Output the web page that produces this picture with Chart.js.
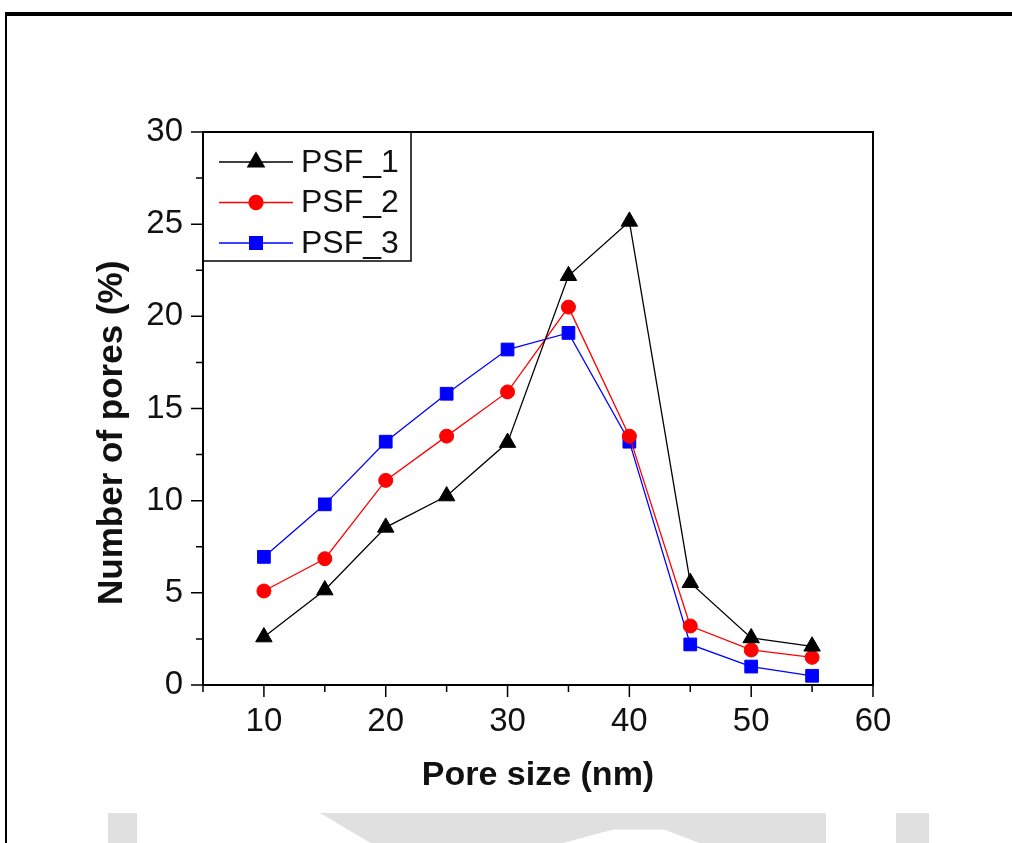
<!DOCTYPE html>
<html>
<head>
<meta charset="utf-8">
<script src="https://cdn.jsdelivr.net/npm/chart.js@4.4.0/dist/chart.umd.min.js"></script>
<style>
  html, body { margin: 0; padding: 0; background: #fff; }
  #wrap { position: relative; width: 1012px; height: 843px; overflow: hidden; }
  #graph { position: absolute; left: 0; top: 0; }
  #frame { position: absolute; left: 5px; top: 12px; width: 1012px; height: 840px;
           border-top: 4px solid #000; border-left: 2px solid #000; box-sizing: border-box; }
  .wm { position: absolute; background: #e0e0e0; }
</style>
</head>
<body>
<div id="wrap">
  <canvas id="graph" width="1012" height="843"></canvas>
  <div id="frame"></div>
  <div class="wm" style="left:108px;top:813px;width:29px;height:30px"></div>
  <div class="wm" style="left:320px;top:813px;width:506px;height:30px;clip-path:polygon(0 0,100% 0,100% 100%,75% 100%,68% 55%,58% 55%,48% 100%,10% 100%)"></div>
  <div class="wm" style="left:896px;top:813px;width:33px;height:30px"></div>
</div>
<script>
// pore size (nm)
const tailles = [10, 15, 20, 25, 30, 35, 40, 45, 50, 55];
const psf1 = [2.6, 5.15, 8.55, 10.25, 13.15, 22.2, 25.15, 5.55, 2.55, 2.1];
const psf2 = [5.1, 6.85, 11.1, 13.5, 15.9, 20.5, 13.5, 3.2, 1.9, 1.5];
const psf3 = [6.95, 9.8, 13.2, 15.8, 18.2, 19.1, 13.2, 2.2, 1.0, 0.5];
const noms = ["PSF_1", "PSF_2", "PSF_3"];

const police = "'Liberation Sans', Arial, sans-serif";

function serie(nom, vals, couleur, style, rayon) {
  return {
    label: nom,
    data: tailles.map((t, i) => ({ x: t, y: vals[i] })),
    borderColor: couleur,
    backgroundColor: couleur,
    borderWidth: 1.3,
    pointStyle: style,
    pointRadius: rayon,
    pointHoverRadius: rayon,
    pointBorderWidth: 1,
    pointBackgroundColor: couleur,
    pointBorderColor: couleur,
    tension: 0
  };
}

// ticks + box + legend drawn inside the plot
const cadre = {
  id: "cadre",
  afterDraw(chart) {
    const ctx = chart.ctx;
    const a = chart.chartArea;
    const sx = chart.scales.x, sy = chart.scales.y;
    ctx.save();
    ctx.strokeStyle = "#000";
    ctx.lineWidth = 1.5;
    ctx.beginPath();
    sx.ticks.forEach(t => {
      const px = sx.getPixelForValue(t.value);
      const long = t.value % 10 === 0 ? 12 : 7;
      ctx.moveTo(px, a.bottom);
      ctx.lineTo(px, a.bottom + long);
    });
    sy.ticks.forEach(t => {
      const py = sy.getPixelForValue(t.value);
      const long = t.value % 5 === 0 ? 12 : 7;
      ctx.moveTo(a.left, py);
      ctx.lineTo(a.left - long, py);
    });
    ctx.stroke();
    ctx.lineWidth = 2;
    ctx.strokeRect(a.left, a.top, a.right - a.left, a.bottom - a.top);

    // legend
    const lx = a.left, ly = a.top;
    ctx.lineWidth = 1.5;
    ctx.strokeRect(lx, ly, 208, 129);
    chart.data.datasets.forEach((ds, i) => {
      const y = ly + 30 + i * 40.5;
      ctx.strokeStyle = ds.borderColor;
      ctx.lineWidth = 1.3;
      ctx.beginPath();
      ctx.moveTo(lx + 16, y);
      ctx.lineTo(lx + 90, y);
      ctx.stroke();
      ctx.fillStyle = ds.backgroundColor;
      ctx.strokeStyle = ds.borderColor;
      Chart.helpers.drawPoint(ctx, { pointStyle: ds.pointStyle, radius: ds.pointRadius, rotation: 0, borderWidth: 1 }, lx + 53, y);
      ctx.fillStyle = "#111";
      ctx.font = "32px " + police;
      ctx.textBaseline = "middle";
      ctx.textAlign = "left";
      ctx.fillText(ds.label, lx + 98, y + 1);
    });
    ctx.restore();
  }
};

new Chart(document.getElementById("graph").getContext("2d"), {
  type: "line",
  data: {
    datasets: [
      serie(noms[0], psf1, "#000000", "triangle", 9.5),
      serie(noms[1], psf2, "#ff0000", "circle", 7),
      serie(noms[2], psf3, "#0000ff", "rect", 9)
    ]
  },
  options: {
    responsive: false,
    animation: false,
    layout: { padding: { left: 20, right: 139, top: 132, bottom: 0 } },
    plugins: { legend: { display: false }, tooltip: { enabled: false } },
    scales: {
      x: {
        type: "linear",
        min: 5, max: 60,
        afterFit: s => { s.height = 158; },
        border: { display: false },
        grid: { display: false, drawTicks: false },
        ticks: {
          stepSize: 5, autoSkip: false, maxRotation: 0, padding: 17,
          color: "#111", font: { family: police, size: 33 },
          callback: v => (v % 10 === 0 ? v : "")
        },
        title: {
          display: true, text: "Pore size (nm)", color: "#111",
          font: { family: police, size: 34, weight: "bold" },
          padding: { top: 0, bottom: 47 }
        }
      },
      y: {
        min: 0, max: 30,
        afterFit: s => { s.width = 183; },
        border: { display: false },
        grid: { display: false, drawTicks: false },
        ticks: {
          stepSize: 2.5, autoSkip: false, padding: 20,
          color: "#111", font: { family: police, size: 33 },
          callback: v => (v % 5 === 0 ? v : "")
        },
        title: {
          display: true, text: "Number of pores (%)\u00a0\u00a0\u00a0\u00a0\u00a0", color: "#111",
          font: { family: police, size: 35, weight: "bold" },
          padding: { top: 71, bottom: 0 }
        }
      }
    }
  },
  plugins: [cadre]
});
</script>
</body>
</html>
